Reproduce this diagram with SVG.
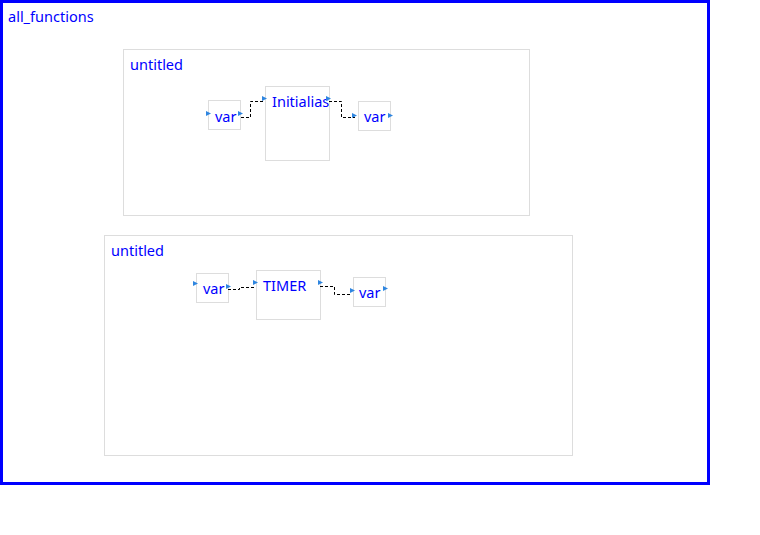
<svg xmlns="http://www.w3.org/2000/svg" width="760" height="535" viewBox="0 0 760 535">
<style>
.lbl{font-family:"Noto Sans","Open Sans","DejaVu Sans",sans-serif;font-size:14.5px;fill:#0000ff}
.frame{fill:#fff;stroke:#dddddd;stroke-width:1}
.box{fill:#fff;stroke:#dddddd;stroke-width:1}
.port{fill:#2f86e0}
.wire{fill:none;stroke:#000;stroke-width:1;stroke-dasharray:3,2}
</style>
<defs>
<clipPath id="clipInit"><rect x="265" y="86" width="64" height="74"/></clipPath>
<path id="tri" d="M0,0 L5,2.5 L0,5 Z"/>
</defs>
<rect width="760" height="535" fill="#fff"/>
<g id="all_functions">
<rect x="1.5" y="1.5" width="707" height="482" fill="#fff" stroke="#0000ff" stroke-width="3"/>
<text class="lbl" x="8" y="22">all_functions</text>
</g>
<g id="untitled1">
<rect class="frame" x="123.5" y="49.5" width="406" height="166"/>
<text class="lbl" x="130" y="70">untitled</text>
</g>
<g id="untitled2">
<rect class="frame" x="104.5" y="235.5" width="468" height="220"/>
<text class="lbl" x="111" y="256">untitled</text>
</g>
<g id="var1">
<rect class="box" x="208.5" y="100.5" width="32" height="29"/>
<text class="lbl" x="215" y="122">var</text>
<use href="#tri" class="port" x="206" y="111"/>
<use href="#tri" class="port" x="238" y="111"/>
</g>
<g id="initialias">
<rect class="box" x="265.5" y="86.5" width="64" height="74"/>
<text class="lbl" x="272" y="107" clip-path="url(#clipInit)">Initialiase</text>
<use href="#tri" class="port" x="262" y="96"/>
<use href="#tri" class="port" x="326" y="96"/>
</g>
<g id="var2">
<rect class="box" x="358.5" y="101.5" width="32" height="29"/>
<text class="lbl" x="364" y="122">var</text>
<use href="#tri" class="port" x="352" y="113"/>
<use href="#tri" class="port" x="388" y="113"/>
</g>
<g id="var3">
<rect class="box" x="196.5" y="273.5" width="32" height="29"/>
<text class="lbl" x="203" y="294">var</text>
<use href="#tri" class="port" x="193" y="281"/>
<use href="#tri" class="port" x="226" y="284"/>
</g>
<g id="timer">
<rect class="box" x="256.5" y="270.5" width="64" height="49"/>
<text class="lbl" x="263" y="291">TIMER</text>
<use href="#tri" class="port" x="253" y="280"/>
<use href="#tri" class="port" x="318" y="280"/>
</g>
<g id="var4">
<rect class="box" x="353.5" y="277.5" width="32" height="29"/>
<text class="lbl" x="359" y="298">var</text>
<use href="#tri" class="port" x="350" y="288"/>
<use href="#tri" class="port" x="383" y="286"/>
</g>
<g id="connectors">
<path class="wire" d="M241,117.5 H250.5 V101.5 H263"/>
<path class="wire" d="M329,101.5 H341.5 V117.5 H355"/>
<path class="wire" d="M228,289.5 H239.5 V287.5 H254"/>
<path class="wire" d="M320,286.5 H334.5 V294.5 H351"/>
</g>
</svg>
